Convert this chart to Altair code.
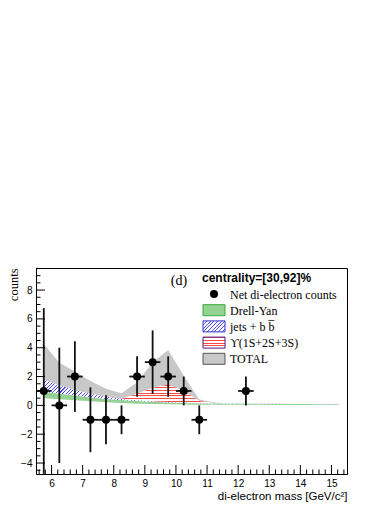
import altair as alt
import pandas as pd

# ---------------- data ----------------
mass = [5.75, 6.25, 6.75, 7.25, 7.75, 8.25, 8.75, 9.25, 9.75, 10.25,
        10.75, 11.25, 11.75, 12.25, 12.75, 13.25, 13.75, 14.25, 14.75, 15.25]
dy_lo = [0.50, 0.42, 0.35, 0.28, 0.22, 0.16, 0.12, 0.10, 0.08, 0.06,
         0.05, 0.05, 0.04, 0.04, 0.04, 0.03, 0.03, 0.03, 0.03, 0.03]
dy_hi = [0.95, 0.80, 0.68, 0.55, 0.45, 0.37, 0.30, 0.25, 0.20, 0.17,
         0.15, 0.13, 0.12, 0.11, 0.10, 0.10, 0.09, 0.09, 0.08, 0.08]
jets_hi = [1.80, 1.40, 1.05, 0.80, 0.60, 0.45, 0.36, 0.29, 0.24, 0.20,
           0.17, 0.15, 0.13, 0.12, 0.11, 0.11, 0.10, 0.10, 0.09, 0.09]
ups_hi = [1.80, 1.40, 1.05, 0.80, 0.60, 0.45, 0.80, 1.20, 1.45, 1.00,
          0.30, 0.15, 0.13, 0.12, 0.11, 0.11, 0.10, 0.10, 0.09, 0.09]
total_hi = [4.25, 2.95, 2.35, 1.70, 1.15, 0.85, 1.60, 3.00, 3.85, 2.05,
            0.40, 0.20, 0.12, 0.10, 0.09, 0.09, 0.08, 0.08, 0.07, 0.07]

pt_x = [5.75, 6.25, 6.75, 7.25, 7.75, 8.25, 8.75, 9.25, 9.75, 10.25, 10.75, 12.25]
pt_y = [1, 0, 2, -1, -1, -1, 2, 3, 2, 1, -1, 1]
pt_err = [5.75, 4.0, 2.45, 2.25, 1.7, 1.0, 1.4, 2.2, 1.4, 1.0, 1.0, 1.0]
bin_half = 0.25

x_major = [6, 7, 8, 9, 10, 11, 12, 13, 14, 15]
y_major = [-4, -2, 0, 2, 4, 6, 8]
x_minor = [round(5.6 + 0.2 * i, 2) for i in range(50)]
x_minor = [v for v in x_minor if v <= 15.5 and abs(v - round(v)) > 1e-6]
y_minor = [-4.5 + 0.5 * i for i in range(29)]
y_minor = [v for v in y_minor if v <= 9.5 and v % 2 != 0]

legend_title = "centrality=[30,92]%"
legend_labels = ["Net di-electron counts", "Drell-Yan", "jets + b b\u0305",
                 "\u03d2(1S+2S+3S)", "TOTAL"]

# ---------------- tables ----------------
bands = pd.DataFrame({"x": mass, "dy_lo": dy_lo, "dy_hi": dy_hi,
                      "jets_hi": jets_hi, "ups_hi": ups_hi, "total_hi": total_hi})
ups_band = bands[(bands["x"] >= 8.25) & (bands["x"] <= 11.25)]
pts = pd.DataFrame({"x": pt_x, "y": pt_y, "err": pt_err})
pts["lo"] = pts["y"] - pts["err"]
pts["hi"] = pts["y"] + pts["err"]
pts["xl"] = pts["x"] - bin_half
pts["xr"] = pts["x"] + bin_half
one = pd.DataFrame({"k": [0]})

# ---------------- scales / axes ----------------
W, H = 311, 206
xs = alt.Scale(domain=[5.5, 15.5], nice=False, zero=False)
ys = alt.Scale(domain=[-4.76, 9.53], nice=False, zero=False)
XT = "di-electron mass [GeV/c\u00b2]"
xaxis = alt.Axis(values=x_major, ticks=False, domain=False, grid=False,
                 labelFont="Liberation Sans", labelFontSize=10, labelPadding=4,
                 labelColor="black", labelFlush=False,
                 title=XT, titleFont="Liberation Sans",
                 titleFontSize=11.5, titleFontWeight="normal", titleColor="black",
                 titleAlign="right", titleX=W, titleY=25, titleBaseline="alphabetic")
yaxis = alt.Axis(values=y_major, ticks=False, domain=False, grid=False,
                 labelFont="Liberation Sans", labelFontSize=10, labelPadding=4,
                 labelColor="black", labelFlush=False,
                 title="counts", titleFont="Liberation Serif", titleFontSize=12.5,
                 titleFontWeight="normal", titleColor="black", titleAngle=270,
                 titleAlign="right", titleBaseline="alphabetic", titleX=-19, titleY=0)


def X(f):
    return alt.X(f, type="quantitative", scale=xs, axis=xaxis, title=XT)


def Y(f):
    return alt.Y(f, type="quantitative", scale=ys, axis=yaxis, title="counts")


def stripes(c1, c2, n, frac, x2, y2):
    stops = []
    for k in range(n):
        a = k / n
        b = (k + frac) / n
        c = (k + 1) / n if k < n - 1 else 1.0
        stops += [{"offset": a, "color": c1}, {"offset": b, "color": c1},
                  {"offset": b, "color": c2}, {"offset": c, "color": c2}]
    return {"gradient": "linear", "x1": 0, "y1": 0, "x2": x2, "y2": y2, "stops": stops}


def diag(c1, c2, w, h, period, frac):
    s = (w + h) / (w * (1 + (h / w) ** 2))
    n = max(1, int(round((w + h) / period)))
    return stripes(c1, c2, n, frac, s, s * h / w)


GREEN = "#95d395"
BLUE = "#4a4aff"
RED = "#ff4a4a"
GRAY = "#c8c8c8"

# ---------------- layers ----------------
total = alt.Chart(bands).mark_area(fill=GRAY, opacity=1).encode(
    x=X("x"), y=Y("ups_hi"), y2="total_hi")
dy = alt.Chart(bands).mark_area(fill=GREEN, opacity=1).encode(
    x=X("x"), y=Y("dy_lo"), y2="dy_hi")
jets = alt.Chart(bands).mark_area(
    fill=diag(BLUE, "#ffffff", 295.5, 24.8, 3.6, 0.28), opacity=1).encode(
    x=X("x"), y=Y("dy_hi"), y2="jets_hi")
ups = alt.Chart(ups_band).mark_area(
    fill=stripes(RED, "#ffffff", 7, 0.4, 0, 1), opacity=1).encode(
    x=X("x"), y=Y("jets_hi"), y2="ups_hi")

vbar = alt.Chart(pts).mark_rule(color="#111111", strokeWidth=1.8, clip=True).encode(
    x=X("x"), y=Y("lo"), y2="hi")
hbar = alt.Chart(pts).mark_rule(color="#111111", strokeWidth=1.8).encode(
    x=X("xl"), x2="xr", y=Y("y"))
dots = alt.Chart(pts).mark_circle(color="black", size=64, opacity=1).encode(
    x=X("x"), y=Y("y"))

xmaj = alt.Chart(pd.DataFrame({"x": x_major})).mark_rule(color="black", strokeWidth=1).encode(
    x=X("x"), y=alt.value(H), y2=alt.value(H - 9))
xmin = alt.Chart(pd.DataFrame({"x": x_minor})).mark_rule(color="black", strokeWidth=1).encode(
    x=X("x"), y=alt.value(H), y2=alt.value(H - 4.5))
ymaj = alt.Chart(pd.DataFrame({"y": y_major})).mark_rule(color="black", strokeWidth=1).encode(
    y=Y("y"), x=alt.value(0), x2=alt.value(9))
ymin = alt.Chart(pd.DataFrame({"y": y_minor})).mark_rule(color="black", strokeWidth=1).encode(
    y=Y("y"), x=alt.value(0), x2=alt.value(4.5))

# panel label
panel = alt.Chart(one).mark_text(text="(d)", font="Liberation Serif", fontSize=14,
                                 align="center", baseline="alphabetic", color="black").encode(
    x=alt.value(143), y=alt.value(17))

# legend
LX_SW, LX_TXT, LY0, LDY = 167, 194, 26, 16.2
leg = [alt.Chart(one).mark_text(text=legend_title, font="Liberation Sans", fontSize=12,
                                fontWeight="bold", align="left", baseline="alphabetic",
                                color="black").encode(x=alt.value(166), y=alt.value(14))]
for i, lab in enumerate(legend_labels):
    yy = LY0 + i * LDY
    leg.append(alt.Chart(one).mark_text(text=lab, font="Liberation Serif", fontSize=12,
                                        align="left", baseline="middle", color="black").encode(
        x=alt.value(LX_TXT), y=alt.value(yy + 0.5)))

leg.append(alt.Chart(one).mark_circle(color="black", size=64, opacity=1).encode(
    x=alt.value(178), y=alt.value(LY0)))
sw_fills = [GREEN, diag(BLUE, "#ffffff", 22, 11, 3.6, 0.28),
            stripes(RED, "#ffffff", 4, 0.4, 0, 1), GRAY]
sw_strokes = ["#33aa33", "#3333cc", "#4b1a80", "#555555"]
for j in range(4):
    yy = LY0 + (j + 1) * LDY
    leg.append(alt.Chart(one).mark_rect(fill=sw_fills[j], stroke=sw_strokes[j],
                                        strokeWidth=1, opacity=1).encode(
        x=alt.value(LX_SW), x2=alt.value(LX_SW + 22),
        y=alt.value(yy - 5.5), y2=alt.value(yy + 5.5)))

chart = alt.layer(total, dy, jets, ups, vbar, hbar, dots, xmaj, xmin, ymaj, ymin,
                  panel, *leg).properties(
    width=W, height=H,
    autosize=alt.AutoSizeParams(type="none"),
    padding={"left": 28, "top": 260, "right": 35, "bottom": 30},
    background="white",
).configure_view(stroke="black", strokeWidth=1)

chart.save("out.html", embed_options={"renderer": "svg", "actions": False})
